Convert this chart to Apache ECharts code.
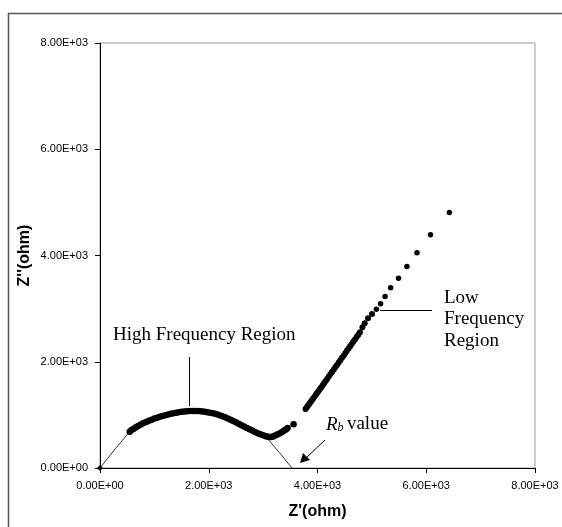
<!DOCTYPE html>
<html>
<head>
<meta charset="utf-8">
<script src="https://cdn.jsdelivr.net/npm/echarts@6/dist/echarts.min.js"></script>
<style>
html,body{margin:0;padding:0;background:#fff;}
#chart{width:562px;height:527px;}
</style>
</head>
<body>
<div id="chart"></div>
<script>
// ---- Data (Z' in ohm, Z'' in ohm) ----
const axisMin = 0;
const axisMax = 8000;
const axisStep = 2000;

// High-frequency semicircle (dense points)
const arcX = [546, 580, 620, 660, 700, 750, 800, 850, 900, 950, 1000, 1050, 1100, 1150, 1200, 1250, 1300, 1350, 1400, 1450, 1500, 1550, 1600, 1650, 1700, 1750, 1800, 1850, 1900, 1950, 2000, 2050, 2100, 2150, 2200, 2250, 2300, 2350, 2400, 2450, 2500, 2550, 2600, 2650, 2700, 2750, 2800, 2850, 2900, 2950, 3000, 3050, 3090, 3120, 3150, 3185, 3220, 3260, 3300, 3340, 3380, 3420, 3450, 3560];
const arcY = [683, 715, 740, 765, 790, 818, 845, 868, 890, 910, 930, 948, 965, 980, 995, 1008, 1020, 1030, 1040, 1050, 1058, 1063, 1068, 1072, 1075, 1074, 1072, 1068, 1062, 1055, 1046, 1036, 1025, 1010, 995, 975, 955, 933, 910, 885, 860, 832, 805, 780, 755, 730, 705, 680, 655, 635, 618, 600, 590, 585, 585, 592, 610, 630, 650, 675, 700, 725, 755, 823];

// Low-frequency straight tail (dense part)
const tailX = [3780, 3800, 3820, 3840, 3860, 3880, 3900, 3920, 3945, 3970, 3995, 4020, 4045, 4070, 4095, 4120, 4150, 4180, 4210, 4240, 4270, 4300, 4330, 4360, 4390, 4420, 4450, 4480, 4510, 4540, 4570, 4600, 4630, 4660, 4690, 4720, 4750, 4780, 4826, 4868, 4929, 5002];
const tailY = [1110, 1140, 1165, 1195, 1225, 1250, 1280, 1310, 1340, 1380, 1415, 1450, 1485, 1520, 1560, 1595, 1640, 1680, 1725, 1770, 1810, 1855, 1900, 1940, 1985, 2030, 2075, 2115, 2160, 2205, 2250, 2290, 2335, 2380, 2420, 2465, 2510, 2555, 2648, 2723, 2817, 2898];

// Low-frequency sparse points
const sparseX = [5083, 5160, 5243, 5345, 5490, 5645, 5830, 6078, 6425];
const sparseY = [2987, 3090, 3230, 3395, 3570, 3795, 4050, 4390, 4808];

// Fitted semicircle, visible parts (thin line)
const fitLeftX = [0, 280, 560];
const fitLeftY = [0, 360, 700];
const fitRightX = [3090, 3300, 3530];
const fitRightY = [540, 290, 0];

// Origin marker
const originX = [0];
const originY = [0];

const xName = "Z'(ohm)";
const yName = "Z''(ohm)";

// ---- helpers ----
function pairs(xs, ys){ return xs.map((x,i)=>[x, ys[i]]); }
function sci(v){
  if (v === 0) return '0.00E+00';
  const e = Math.floor(Math.log10(Math.abs(v)));
  const m = v / Math.pow(10, e);
  return m.toFixed(2) + 'E' + (e < 0 ? '-' : '+') + String(Math.abs(e)).padStart(2, '0');
}

const chart = echarts.init(document.getElementById('chart'), null, {renderer: 'canvas'});
const serif = "'Liberation Serif','Times New Roman',serif";
const sans = "'Liberation Sans',Arial,sans-serif";

const axisCommon = {
  type: 'value',
  min: axisMin, max: axisMax, interval: axisStep,
  splitLine: {show: false},
  axisLine: {show: true, onZero: false, lineStyle: {color: '#000', width: 1}},
  axisTick: {show: true, inside: false, length: 5, lineStyle: {color: '#000'}},
  axisLabel: {formatter: sci, color: '#000', fontFamily: sans, fontSize: 11, margin: 12, showMaxLabel: true, showMinLabel: true},
  nameLocation: 'middle',
  nameMoveOverlap: false,
  nameTextStyle: {fontFamily: sans, fontSize: 16, fontWeight: 'bold', color: '#000'}
};

const dot = {color: '#000', opacity: 1};

const option = {
  backgroundColor: '#fff',
  animation: false,
  grid: {left: 100, right: 27, top: 43, bottom: 59, show: true, borderColor: '#9a9a9a', borderWidth: 1, backgroundColor: 'transparent'},
  xAxis: Object.assign({}, axisCommon, {name: xName, nameGap: 36}),
  yAxis: Object.assign({}, axisCommon, {name: yName, nameGap: 67}),
  series: [
    {type: 'line', data: pairs(fitLeftX, fitLeftY), showSymbol: false, symbol: 'none', lineStyle: {color: '#333', width: 1}, z: 1},
    {type: 'line', data: pairs(fitRightX, fitRightY), showSymbol: false, symbol: 'none', lineStyle: {color: '#333', width: 1}, z: 1},
    {type: 'scatter', data: pairs(arcX, arcY), symbol: 'circle', symbolSize: 6.5, itemStyle: dot, z: 3},
    {type: 'scatter', data: pairs(tailX, tailY), symbol: 'circle', symbolSize: 6, itemStyle: dot, z: 3},
    {type: 'scatter', data: pairs(sparseX, sparseY), symbol: 'circle', symbolSize: 5.5, itemStyle: dot, z: 3},
    {type: 'scatter', data: pairs(originX, originY), symbol: 'diamond', symbolSize: 6, itemStyle: dot, z: 4}
  ],
  graphic: [
    {type: 'rect', shape: {x: 8.5, y: 13.5, width: 620, height: 620}, style: {fill: 'none', stroke: '#555', lineWidth: 1.5}, z: 0, silent: true},
    {type: 'text', left: 113, top: 326, style: {text: 'High Frequency Region', font: '19px ' + serif, fill: '#000'}},
    {type: 'line', shape: {x1: 189.5, y1: 357, x2: 189.5, y2: 406}, style: {stroke: '#000', lineWidth: 1}},
    {type: 'text', left: 444, top: 287, style: {text: 'Low\nFrequency\nRegion', font: '19px ' + serif, fill: '#000', lineHeight: 21.5}},
    {type: 'line', shape: {x1: 380, y1: 310.5, x2: 432, y2: 310.5}, style: {stroke: '#000', lineWidth: 1}},
    {type: 'text', left: 326, top: 415, style: {
      text: '{r|R}{b|b} {v|value}',
      rich: {
        r: {font: 'italic 19px ' + serif, fill: '#000'},
        b: {font: 'italic 12px ' + serif, fill: '#000', padding: [6, 0, 0, 0]},
        v: {font: '19px ' + serif, fill: '#000'}
      }
    }},
    {type: 'line', shape: {x1: 325, y1: 440, x2: 306, y2: 458}, style: {stroke: '#000', lineWidth: 1}},
    {type: 'polygon', shape: {points: [[300, 463], [303, 453], [310, 460]]}, style: {fill: '#000'}}
  ]
};
chart.setOption(option);
</script>
</body>
</html>
